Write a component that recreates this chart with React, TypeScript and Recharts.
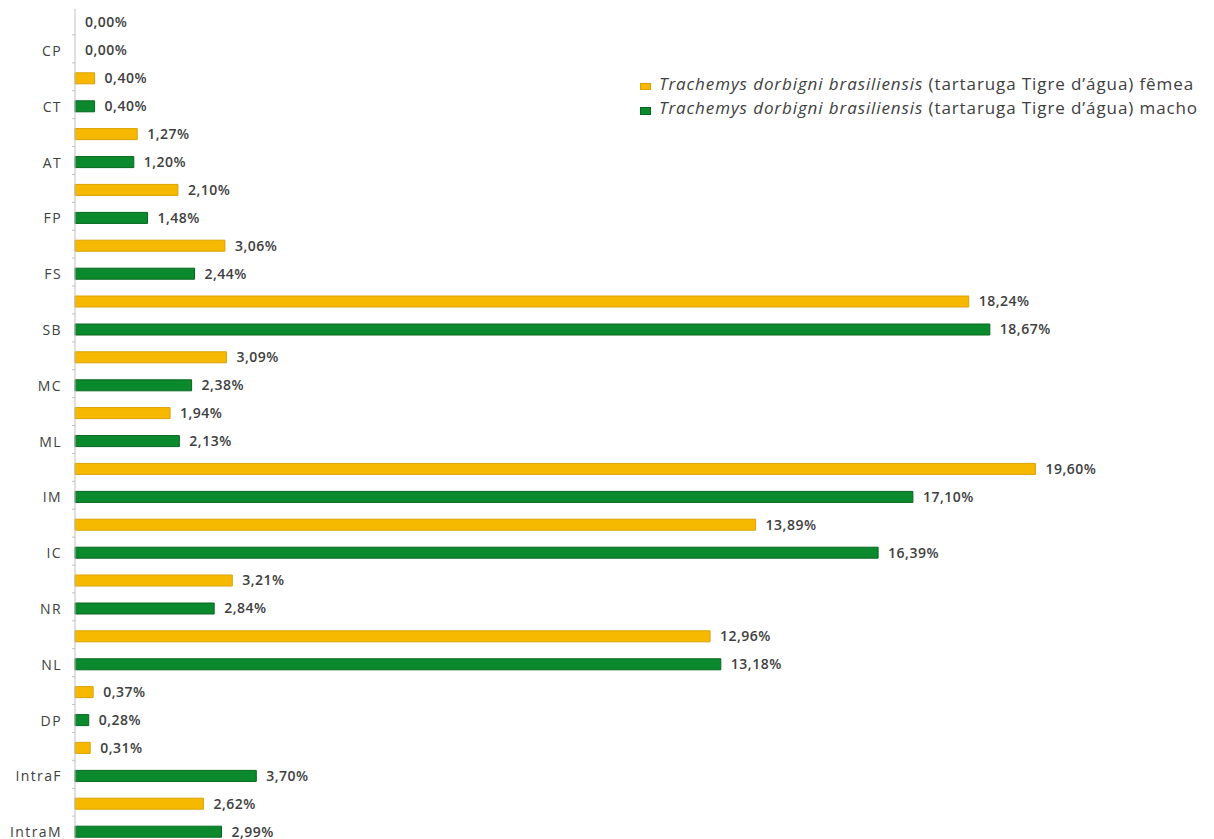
import { BarChart, Bar, XAxis, YAxis, LabelList, Cell } from "recharts"

const categories = ["CP", "CT", "AT", "FP", "FS", "SB", "MC", "ML", "IM", "IC", "NR", "NL", "DP", "IntraF", "IntraM"]
const femea = [0, 0.4, 1.27, 2.1, 3.06, 18.24, 3.09, 1.94, 19.6, 13.89, 3.21, 12.96, 0.37, 0.31, 2.62]
const macho = [0, 0.4, 1.2, 1.48, 2.44, 18.67, 2.38, 2.13, 17.1, 16.39, 2.84, 13.18, 0.28, 3.7, 2.99]
const seriesNames = ["fêmea", "macho"]

const data = categories.map((cat, i) => ({ cat, femea: femea[i], macho: macho[i] }))

const FONT = "'Open Sans', 'Noto Sans', sans-serif"
const YELLOW = "#F7B900"
const YELLOW_EDGE = "#D9A200"
const GREEN = "#0A8A2C"
const GREEN_EDGE = "#06661F"

const fmt = (v: any) => `${Number(v).toFixed(2).replace(".", ",")}%`
// zero values still need their label, so give them a hair-thin invisible bar
const zeroSize = (v: any) => (Number(v) === 0 ? 0.01 : 0)

const CategoryTick = (props: any) => {
  const { x, y, payload } = props
  return (
    <g>
      <line x1={x - 3} x2={x} y1={y - 2} y2={y - 2} stroke="#BFBFBF" />
      <line x1={x - 3} x2={x} y1={y + 26} y2={y + 26} stroke="#BFBFBF" />
      <text x={x - 13} y={y + 14} dy={5} textAnchor="end" fontSize={14} letterSpacing={1.4} fill="#404040" fontFamily={FONT}>
        {payload.value}
      </text>
    </g>
  )
}

const LegendBox = () => {
  const items = [
    { color: YELLOW, edge: YELLOW_EDGE, label: seriesNames[0], h: 5 },
    { color: GREEN, edge: GREEN_EDGE, label: seriesNames[1], h: 6 },
  ]
  return (
    <div
      style={{
        position: "absolute",
        left: 632,
        top: 64,
        fontFamily: FONT,
        fontSize: 17,
        letterSpacing: 0.9,
        color: "#404040",
        lineHeight: "24px",
      }}
    >
      {items.map((it) => (
        <div key={it.label} style={{ display: "flex", alignItems: "center", whiteSpace: "nowrap" }}>
          <span
            style={{
              display: "inline-block",
              width: 9,
              height: it.h,
              background: it.color,
              border: `1px solid ${it.edge}`,
              marginRight: 8,
              marginTop: 5,
            }}
          />
          <span>
            <i>Trachemys dorbigni brasiliensis</i> (tartaruga Tigre d’água) {it.label}
          </span>
        </div>
      ))}
    </div>
  )
}

export default function App() {
  return (
    <div style={{ position: "relative", width: 1198, height: 838 }}>
      <BarChart
        width={1198}
        height={838}
        data={data}
        layout="vertical"
        margin={{ top: 1, right: 151, bottom: 0, left: 0 }}
        barSize={11}
        barGap={17}
      >
        <XAxis type="number" domain={[0, 20]} hide />
        <YAxis
          type="category"
          dataKey="cat"
          width={67}
          tickSize={0}
          tickMargin={0}
          tickLine={false}
          axisLine={{ stroke: "#BFBFBF" }}
          tick={<CategoryTick />}
          interval={0}
        />
        <Bar dataKey="femea" fill={YELLOW} stroke={YELLOW_EDGE} minPointSize={zeroSize} isAnimationActive={false}>
          {femea.map((v, i) => (
            <Cell key={i} stroke={v === 0 ? "none" : YELLOW_EDGE} />
          ))}
          <LabelList dataKey="femea" position="right" offset={10} formatter={fmt} fontSize={14} letterSpacing={0.5} fontWeight={600} fill="#404040" fontFamily={FONT} />
        </Bar>
        <Bar dataKey="macho" fill={GREEN} stroke={GREEN_EDGE} minPointSize={zeroSize} isAnimationActive={false}>
          {macho.map((v, i) => (
            <Cell key={i} stroke={v === 0 ? "none" : GREEN_EDGE} />
          ))}
          <LabelList dataKey="macho" position="right" offset={10} formatter={fmt} fontSize={14} letterSpacing={0.5} fontWeight={600} fill="#404040" fontFamily={FONT} />
        </Bar>
      </BarChart>
      <LegendBox />
    </div>
  )
}
